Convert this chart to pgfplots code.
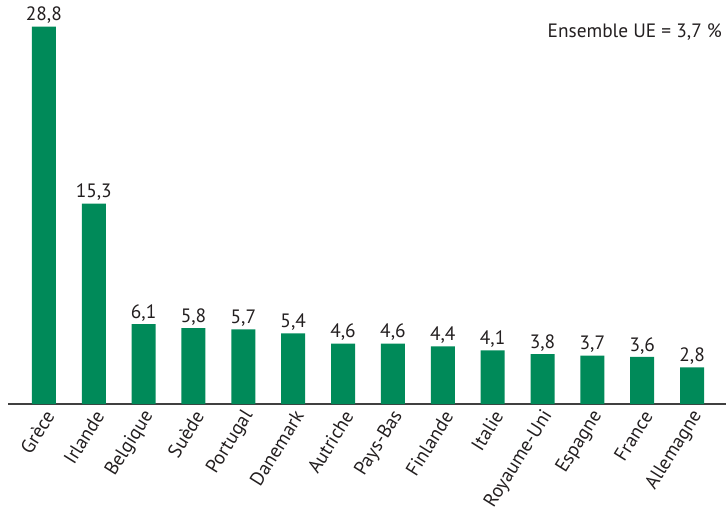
\documentclass[border=0pt]{standalone}
\usepackage{pgfplots}
\pgfplotsset{compat=1.18}
\usepackage{fontspec}
\setmainfont{PT Sans}
\definecolor{bargreen}{RGB}{0,138,89}
\definecolor{txt}{RGB}{35,31,32}

\begin{document}
\begin{tikzpicture}
    \begin{axis}[
        scale only axis,
        width=538.5pt, height=294.75pt,
        xmin=-0.72, xmax=13.68,
        ymin=0, ymax=30,
        axis x line=bottom,
        hide y axis,
        axis line style={draw=black!75, line width=0.9pt, -},
        ybar, bar width=18pt,
        xtick=data,
        xticklabels={Grèce, Irlande, Belgique, Suède, Portugal, Danemark,
            Autriche, Pays-Bas, Finlande, Italie, Royaume-Uni, Espagne,
            France, Allemagne},
        major tick length=0pt,
        x tick label style={rotate=58, anchor=east, inner sep=2pt,
            xshift=-1pt, yshift=-7pt,
            font=\fontsize{14.5}{16}\selectfont, text=txt},
        nodes near coords={\pgfmathprintnumber[fixed, fixed zerofill,
            precision=1, use comma, assume math mode=true]{\pgfplotspointmeta}},
        every node near coord/.append style={font=\fontsize{14.5}{16}\selectfont,
            text=txt, inner sep=2pt},
    ]

    % Taux par pays
    \addplot[fill=bargreen, draw=none] coordinates {
        (0, 28.8) (1, 15.3) (2, 6.1) (3, 5.8) (4, 5.7) (5, 5.4) (6, 4.6)
        (7, 4.6) (8, 4.4) (9, 4.1) (10, 3.8) (11, 3.7) (12, 3.6) (13, 2.8)
    };

    \end{axis}
    \node[anchor=east, font=\fontsize{14.5}{16}\selectfont, text=txt]
        at (539pt, 279pt) {Ensemble UE = 3,7~\%};
    \pgfresetboundingbox
    \path (-6pt,-83.25pt) rectangle (540pt,303pt);
\end{tikzpicture}
\end{document}
